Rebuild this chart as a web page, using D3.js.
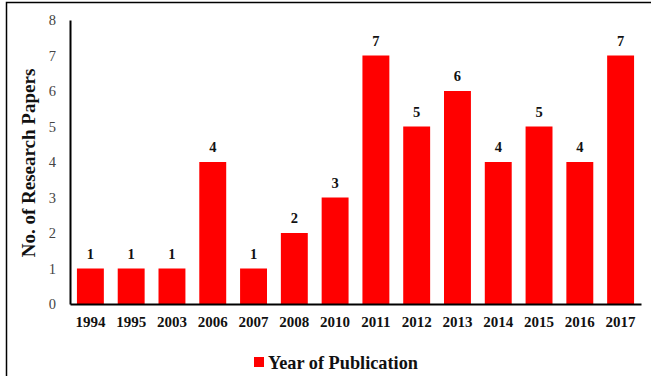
<!DOCTYPE html>
<html>
<head>
<meta charset="utf-8">
<script src="https://cdn.jsdelivr.net/npm/d3@7"></script>
<style>
  html, body { margin: 0; padding: 0; background: #fff; }
  svg { display: block; }
</style>
</head>
<body>
<svg id="chart" width="651" height="376"></svg>
<script>
// Publications per year
const years = ["1994", "1995", "2003", "2006", "2007", "2008", "2010", "2011", "2012", "2013", "2014", "2015", "2016", "2017"];
const papers = [1, 1, 1, 4, 1, 2, 3, 7, 5, 6, 4, 5, 4, 7];
const yTicks = [0, 1, 2, 3, 4, 5, 6, 7, 8];
const seriesName = "Year of Publication";
const yTitle = "No. of Research Papers";

const data = years.map((y, i) => ({ year: y, value: papers[i] }));

const svg = d3.select("#chart");
const W = 651, H = 376;
const serif = "'Liberation Serif', 'Times New Roman', serif";
const barColor = "#ff0000";

// outer frame (extends past the right and bottom edges)
svg.append("rect")
  .attr("x", 6.5).attr("y", 2.5)
  .attr("width", W).attr("height", H)
  .attr("fill", "none").attr("stroke", "#000").attr("stroke-width", 1.5);

const plotLeft = 70, plotRight = 641, plotTop = 20, plotBottom = 304;

const x = d3.scaleBand().domain(years).range([plotLeft, plotRight]).paddingInner(0.34).paddingOuter(0.17);
const y = d3.scaleLinear().domain([0, 8]).range([plotBottom, plotTop]);

// bars
svg.append("g").selectAll("rect").data(data).join("rect")
  .attr("x", d => x(d.year))
  .attr("y", d => y(d.value))
  .attr("width", x.bandwidth())
  .attr("height", d => y(0) - y(d.value))
  .attr("fill", barColor);

// value labels
svg.append("g").selectAll("text").data(data).join("text")
  .attr("x", d => x(d.year) + x.bandwidth() / 2)
  .attr("y", d => y(d.value) - 10)
  .attr("text-anchor", "middle")
  .attr("font-family", serif).attr("font-weight", "bold").attr("font-size", 14.5)
  .attr("fill", "#111")
  .text(d => d.value);

// y axis
const yAxis = svg.append("g").attr("transform", `translate(${plotLeft},0)`)
  .call(d3.axisLeft(y).tickValues(yTicks).tickSize(0).tickPadding(14).tickFormat(d3.format("d")));
yAxis.select(".domain").attr("stroke", "#000").attr("stroke-width", 2);
yAxis.selectAll("text").attr("font-family", serif).attr("font-size", 14.5).attr("fill", "#444");

// x axis
const xAxis = svg.append("g").attr("transform", `translate(0,${plotBottom})`)
  .call(d3.axisBottom(x).tickSize(0).tickPadding(12));
xAxis.select(".domain").attr("stroke", "#000").attr("stroke-width", 2);
xAxis.selectAll("text").attr("font-family", serif).attr("font-weight", "bold")
  .attr("font-size", 15).attr("fill", "#111");

// y axis title
svg.append("text")
  .attr("transform", `translate(35,163) rotate(-90)`)
  .attr("text-anchor", "middle")
  .attr("font-family", serif).attr("font-weight", "bold").attr("font-size", 19)
  .attr("fill", "#111")
  .text(yTitle);

// legend
const legend = svg.append("g").attr("transform", "translate(254,357)");
legend.append("rect").attr("x", 0).attr("y", 0).attr("width", 10).attr("height", 10).attr("fill", barColor);
legend.append("text").attr("x", 14).attr("y", 12)
  .attr("font-family", serif).attr("font-weight", "bold").attr("font-size", 18.3)
  .attr("fill", "#111")
  .text(seriesName);
</script>
</body>
</html>
